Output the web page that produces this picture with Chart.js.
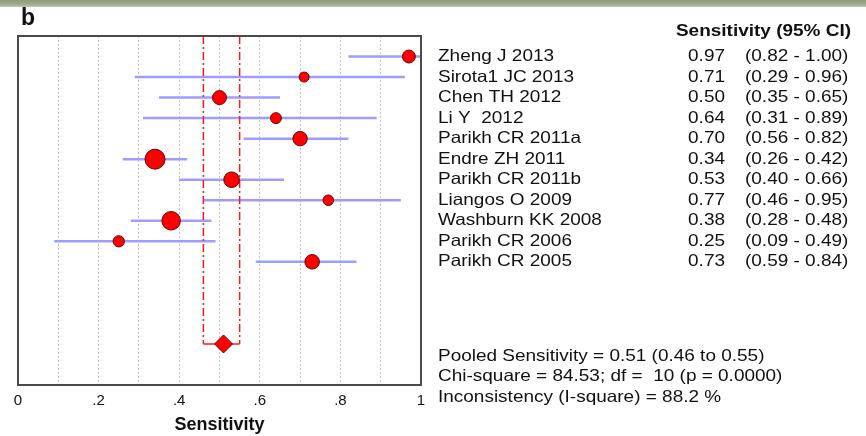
<!DOCTYPE html>
<html>
<head>
<meta charset="utf-8">
<script src="https://cdn.jsdelivr.net/npm/chart.js@4"></script>
<style>
  html, body { margin: 0; padding: 0; background: #fff; }
  #wrap { position: relative; width: 866px; height: 436px; }
  #band { position: absolute; left: 0; top: 0; width: 866px; height: 7px;
          background: linear-gradient(#8f9a7e, #a3ad90 70%, #c4cbb4); }
</style>
</head>
<body>
<div id="wrap">
  <canvas id="forest"></canvas>
  <div id="band"></div>
</div>
<script>
const studies = ['Zheng J 2013', 'Sirota1 JC 2013', 'Chen TH 2012', 'Li Y  2012', 'Parikh CR 2011a',
    'Endre ZH 2011', 'Parikh CR 2011b', 'Liangos O 2009', 'Washburn KK 2008', 'Parikh CR 2006', 'Parikh CR 2005'];
const sensitivity = [0.97, 0.71, 0.50, 0.64, 0.70, 0.34, 0.53, 0.77, 0.38, 0.25, 0.73];
const ciLow = [0.82, 0.29, 0.35, 0.31, 0.56, 0.26, 0.40, 0.46, 0.28, 0.09, 0.59];
const ciHigh = [1.00, 0.96, 0.65, 0.89, 0.82, 0.42, 0.66, 0.95, 0.48, 0.49, 0.84];
// study weights (%), marker area follows the weight
const weights = [7.5, 4.5, 8.8, 5.4, 9.3, 17.9, 10.9, 5.0, 15.4, 5.7, 9.5];

const pooled = 0.51;
const pooledLow = 0.46;
const pooledHigh = 0.55;
const statLines = [
    'Pooled Sensitivity = 0.51 (0.46 to 0.55)',
    'Chi-square = 84.53; df =  10 (p = 0.0000)',
    'Inconsistency (I-square) = 88.2 %'
];

const xTickValues = [0, 0.2, 0.4, 0.6, 0.8, 1];
const xTickLabels = ['0', '.2', '.4', '.6', '.8', '1'];

const POOLED_ROW = 14;
const FONT = '"Liberation Sans", Arial, sans-serif';
const SX = 1.15; // text in the table is a bit wide

const fmt = v => v.toFixed(2);

// one thin line per study for its confidence interval
const ciSets = studies.map((s, i) => ({
    type: 'line',
    label: s + ' CI',
    data: [{x: ciLow[i], y: i}, {x: ciHigh[i], y: i}],
    borderColor: '#9d9dff',
    borderWidth: 2.5,
    pointRadius: 0,
    order: 5
}));

// pooled interval: two dash-dot verticals joined by a bar at the diamond
const pooledLine = (data, dash) => ({
    type: 'line',
    data,
    borderColor: '#ff1a1a',
    borderWidth: 1.5,
    borderDash: dash,
    pointRadius: 0,
    order: 4
});

const datasets = [
    {
        type: 'scatter',
        label: 'Sensitivity',
        data: sensitivity.map((v, i) => ({x: v, y: i})),
        backgroundColor: '#ff0000',
        borderColor: '#6a0000',
        borderWidth: 1,
        pointRadius: weights.map(w => 2.36 * Math.sqrt(w)),
        order: 0
    },
    {
        type: 'scatter',
        label: 'Pooled',
        data: [{x: pooled, y: POOLED_ROW}],
        backgroundColor: '#ff0000',
        borderColor: '#6a0000',
        borderWidth: 1,
        pointStyle: 'rectRot',
        pointRadius: 9,
        order: 0
    },
    pooledLine([{x: pooledLow, y: -1}, {x: pooledLow, y: POOLED_ROW}], [8, 3, 2, 3]),
    pooledLine([{x: pooledHigh, y: -1}, {x: pooledHigh, y: POOLED_ROW}], [8, 3, 2, 3]),
    pooledLine([{x: pooledLow, y: POOLED_ROW}, {x: pooledHigh, y: POOLED_ROW}], []),
    ...ciSets
];

function wideText(ctx, str, x, y, align) {
    ctx.save();
    ctx.translate(x, y);
    ctx.scale(SX, 1);
    ctx.textAlign = align;
    ctx.fillText(str, 0, 0);
    ctx.restore();
}

const tablePlugin = {
    id: 'table',
    afterDraw(chart) {
        const ctx = chart.ctx;
        const y = chart.scales.y;
        const area = chart.chartArea;

        // plot frame
        ctx.save();
        ctx.strokeStyle = '#4a4a4a';
        ctx.lineWidth = 2;
        ctx.strokeRect(area.left, area.top, area.right - area.left, area.bottom - area.top);

        ctx.fillStyle = '#111';
        ctx.textBaseline = 'middle';

        ctx.font = 'bold 23px ' + FONT;
        ctx.textAlign = 'left';
        ctx.fillText('b', 21, 19);

        ctx.font = 'bold 16.5px ' + FONT;
        wideText(ctx, 'Sensitivity (95% CI)', 851, y.getPixelForValue(-1.2), 'right');

        ctx.font = '16.5px ' + FONT;
        studies.forEach((s, i) => {
            const py = y.getPixelForValue(i);
            wideText(ctx, s, 438, py, 'left');
            wideText(ctx, fmt(sensitivity[i]), 725, py, 'right');
            wideText(ctx, '(' + fmt(ciLow[i]) + ' - ' + fmt(ciHigh[i]) + ')', 745, py, 'left');
        });
        statLines.forEach((t, k) => {
            wideText(ctx, t, 438, y.getPixelForValue(POOLED_ROW + 0.6 + k), 'left');
        });
        ctx.restore();
    }
};

new Chart(document.getElementById('forest'), {
    type: 'scatter',
    data: {datasets},
    options: {
        responsive: true,
        maintainAspectRatio: false,
        animation: false,
        layout: {padding: {left: 18, right: 445, top: 36, bottom: 0}},
        plugins: {legend: {display: false}, tooltip: {enabled: false}},
        scales: {
            x: {
                type: 'linear',
                min: 0,
                max: 1,
                border: {display: false, dash: [2, 2]},
                afterBuildTicks: scale => {
                    scale.ticks = [0, 1, 2, 3, 4, 5, 6, 7, 8, 9, 10].map(k => ({value: k / 10}));
                },
                ticks: {
                    autoSkip: false,
                    maxRotation: 0,
                    padding: 7,
                    color: '#111',
                    font: {family: FONT, size: 15},
                    callback: v => {
                        const k = xTickValues.findIndex(t => Math.abs(t - v) < 1e-6);
                        return k >= 0 ? xTickLabels[k] : '';
                    }
                },
                grid: {
                    drawTicks: false,
                    color: c => (c.tick && (c.tick.value > 0.001 && c.tick.value < 0.999)) ? '#c4c4c4' : 'rgba(0,0,0,0)',
                    lineWidth: 1
                },
                title: {
                    display: true,
                    text: 'Sensitivity',
                    color: '#111',
                    font: {family: FONT, size: 18, weight: 'bold'},
                    padding: {top: 6, bottom: 0}
                },
                afterFit: scale => { scale.height = 51; }
            },
            y: {
                type: 'linear',
                min: -1,
                max: 16,
                reverse: true,
                display: false
            }
        }
    },
    plugins: [tablePlugin]
});
</script>
</body>
</html>
